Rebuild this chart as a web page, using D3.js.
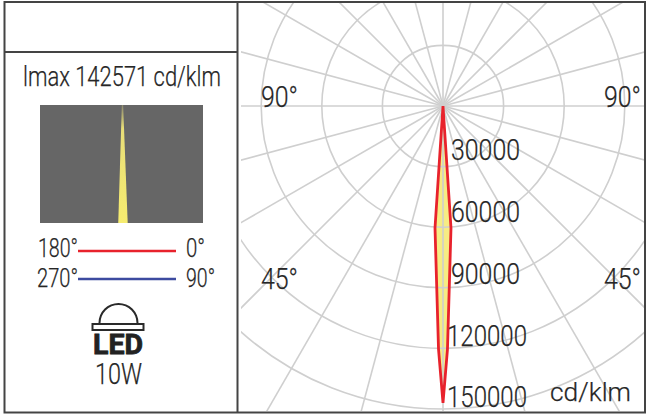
<!DOCTYPE html>
<html>
<head>
<meta charset="utf-8">
<script src="https://cdn.jsdelivr.net/npm/d3@7"></script>
<style>
html,body{margin:0;padding:0;background:#fff}
svg{display:block}
text{font-family:Roboto,"Open Sans",sans-serif;font-weight:300;fill:#262626;stroke:#262626;stroke-width:0.25px}
</style>
</head>
<body>
<svg id="c" width="650" height="416"></svg>
<script>
const ringValues = [30000, 60000, 90000, 120000, 150000];
const ringLabels = ["30000", "60000", "90000", "120000", "150000"];
const spokeAngles = d3.range(0, 360, 15);
const curveAngles = [0, -3.75, -1.05, 0, 1.05, 3.75];
const curveValues = [0, 60500, 120500, 147000, 120500, 60500];
const angleLabels = ["90°", "45°"];
const legendLeft = ["180°", "270°"];
const legendRight = ["0°", "90°"];
const legendColors = ["#e8222c", "#3d4ba0"];

const svg = d3.select("#c");
const cx = 443, cy = 106;
const r = d3.scaleLinear().domain([0, 150000]).range([0, 303]);

function label(sel, x, y, str, size, width, anchor) {
  return sel.append("text").attr("x", x).attr("y", y).attr("font-size", size)
    .attr("text-anchor", anchor || "start")
    .attr("textLength", width).attr("lengthAdjust", "spacingAndGlyphs").text(str);
}

svg.append("clipPath").attr("id", "plot").append("rect")
  .attr("x", 241).attr("y", 3).attr("width", 404).attr("height", 408);

const polar = svg.append("g").attr("clip-path", "url(#plot)")
  .append("g").attr("transform", `translate(${cx},${cy})`);

const radial = d3.lineRadial()
  .angle((d, i) => Math.PI + curveAngles[i] * Math.PI / 180)
  .radius(d => r(d))
  .curve(d3.curveLinearClosed);

polar.append("path").attr("d", radial(curveValues)).attr("fill", "#f6ec84");

const grid = "#cfcfcf";
polar.selectAll("line.s").data(spokeAngles).join("line").attr("class", "s")
  .attr("x2", d => Math.sin(d * Math.PI / 180) * 500)
  .attr("y2", d => -Math.cos(d * Math.PI / 180) * 500)
  .attr("stroke", grid).attr("stroke-width", 1.6);
polar.selectAll("circle.r").data(ringValues).join("circle").attr("class", "r")
  .attr("r", d => r(d)).attr("fill", "none")
  .attr("stroke", grid).attr("stroke-width", 1.6);

polar.append("path").attr("d", radial(curveValues))
  .attr("fill", "none").attr("stroke", "#e8222c").attr("stroke-width", 2.8)
  .attr("stroke-linejoin", "miter");

// frame
const frame = "#444";
svg.append("rect").attr("x", 4.5).attr("y", 2).attr("width", 640.5).attr("height", 410.5)
  .attr("fill", "none").attr("stroke", frame).attr("stroke-width", 2);
svg.append("line").attr("x1", 237.5).attr("x2", 237.5).attr("y1", 2).attr("y2", 412.5)
  .attr("stroke", frame).attr("stroke-width", 2);
svg.append("line").attr("x1", 4.5).attr("x2", 237.5).attr("y1", 52).attr("y2", 52)
  .attr("stroke", frame).attr("stroke-width", 2);

// polar labels
[107, 289].forEach((y, i) => {
  label(svg, 261, y, angleLabels[i], 30, 37);
  label(svg, 604, y, angleLabels[i], 30, 37);
});
const labelX = [451, 451, 451, 447, 447];
const labelW = [69, 69, 69, 80, 80];
const labelBase = [160, 222, 284, 346, 407];
ringLabels.forEach((t, i) => label(svg, labelX[i], labelBase[i], t, 30, labelW[i]));
label(svg, 550, 401, "cd/klm", 26, 81);

// left panel
label(svg, 23, 86, "lmax 142571 cd/klm", 28, 198);

const bx = d3.scaleLinear().domain([-1, 1]).range([40, 203]);
const by = d3.scaleLinear().domain([0, 1]).range([105, 223]);
svg.append("rect").attr("x", bx(-1)).attr("y", by(0))
  .attr("width", bx(1) - bx(-1)).attr("height", by(1) - by(0)).attr("fill", "#666");
const beamCentre = 0.012;
const beamLeft = [0.008, 0.052];
const beamRight = [0.008, 0.064];
const beam = d3.area()
  .x0((d, i) => bx(beamCentre - beamLeft[i]))
  .x1((d, i) => bx(beamCentre + beamRight[i]))
  .y(d => by(d));
const defs = svg.append("defs");
const grad = defs.append("linearGradient").attr("id", "beamFade")
  .attr("x1", 0).attr("x2", 0).attr("y1", 0).attr("y2", 1);
grad.append("stop").attr("offset", "0").attr("stop-color", "#8c8a70");
grad.append("stop").attr("offset", "0.2").attr("stop-color", "#e8de78");
grad.append("stop").attr("offset", "1").attr("stop-color", "#f6ec70");
svg.append("path").attr("d", beam([0, 1])).attr("fill", "url(#beamFade)");

const legendY = [251, 279];
const legendBase = [257, 287];
const leftX = [38, 37], leftW = [40, 41];
const rightW = [19, 29];
legendY.forEach((y, i) => {
  svg.append("line").attr("x1", 78).attr("x2", 176).attr("y1", y).attr("y2", y)
    .attr("stroke", legendColors[i]).attr("stroke-width", 2.4);
  label(svg, leftX[i], legendBase[i], legendLeft[i], 25, leftW[i]);
  label(svg, 186, legendBase[i], legendRight[i], 25, rightW[i]);
});

// LED icon
const icon = svg.append("g").attr("transform", "translate(118.5,323)");
icon.append("path")
  .attr("d", d3.arc()({innerRadius: 18, outerRadius: 20, startAngle: -Math.PI / 2, endAngle: Math.PI / 2}))
  .attr("fill", "#2a2a2a");
svg.append("rect").attr("x", 92.5).attr("y", 324).attr("width", 51).attr("height", 6)
  .attr("fill", "#fff").attr("stroke", "#2a2a2a").attr("stroke-width", 2);
label(svg, 93, 354, "LED", 28, 50).style("font-weight", 700).style("fill", "#222").style("stroke", "#222").style("stroke-width", "0.8px");
label(svg, 95, 384, "10W", 30, 47);
</script>
</body>
</html>
